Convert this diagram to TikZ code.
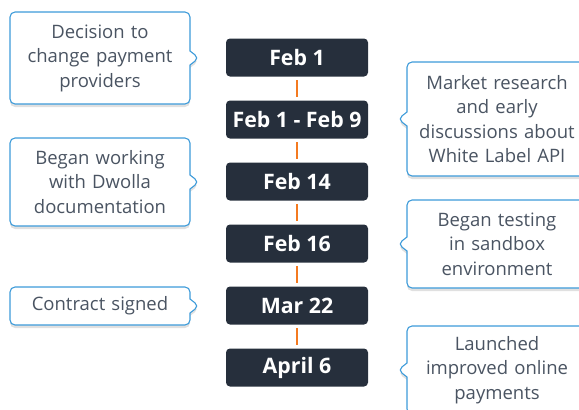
\documentclass[tikz,border=0pt]{standalone}
\usepackage{fontspec}
\setmainfont{Open Sans}
\usetikzlibrary{shapes.callouts,shadows}

\definecolor{datebg}{HTML}{262F3C}
\definecolor{noteblue}{HTML}{3D9BDA}
\definecolor{notetext}{HTML}{4A5462}
\definecolor{linkorange}{HTML}{F47A20}

\begin{document}
\begin{tikzpicture}[x=1pt,y=-1pt,
	datebox/.style={fill=datebg, rounded corners=4pt, minimum width=142pt,
		minimum height=38pt, inner sep=0pt, text=white,
		font=\fontsize{21.3}{25}\selectfont\bfseries},
	note/.style={rectangle callout, draw=noteblue, line width=1.1pt, fill=white,
		rounded corners=5pt, callout pointer width=14pt, text width=176pt,
		align=center, minimum width=180pt, inner sep=2pt, text=notetext,
		font=\fontsize{18.5}{24.5}\selectfont,
		drop shadow={shadow xshift=0pt, shadow yshift=-3pt, opacity=0.12, fill=black}},
	link/.style={draw=linkorange, line width=2.8pt, shorten >=3.5pt, shorten <=3.5pt}]

	\useasboundingbox (0,0) rectangle (579,410);

	% dates
	\foreach \n/\y/\txt in {1/57.5/Feb 1, 2/119.5/Feb 1 - Feb 9, 3/181.5/Feb 14,
			4/243.5/Feb 16, 5/305.5/Mar 22, 6/367.5/April 6}
		\node[datebox] (d\n) at (297,\y) {\txt};

	\foreach \a/\b in {1/2, 2/3, 3/4, 4/5, 5/6}
		\draw[link] (d\a) -- (d\b);

	% notes
	\node[note, minimum height=92pt, callout absolute pointer={(199,58)}] (c1) at (100,58)
		{Decision to\\change payment\\providers};
	\node[note, minimum height=114pt, callout absolute pointer={(398,119)}] (c2) at (497,119)
		{Market research\\and early\\discussions about\\White Label API};
	\node[note, minimum height=88pt, callout absolute pointer={(199,182)}] (c3) at (100,182)
		{Began working\\with Dwolla\\documentation};
	\node[note, minimum height=88pt, callout absolute pointer={(398,244)}] (c4) at (497,244)
		{Began testing\\in sandbox\\environment};
	\node[note, minimum height=38pt, callout absolute pointer={(199,306)}] (c5) at (100,306)
		{Contract signed};
	\node[note, minimum height=88pt, callout absolute pointer={(398,370)}] (c6) at (497,370)
		{Launched\\improved online\\payments};

\end{tikzpicture}
\end{document}
